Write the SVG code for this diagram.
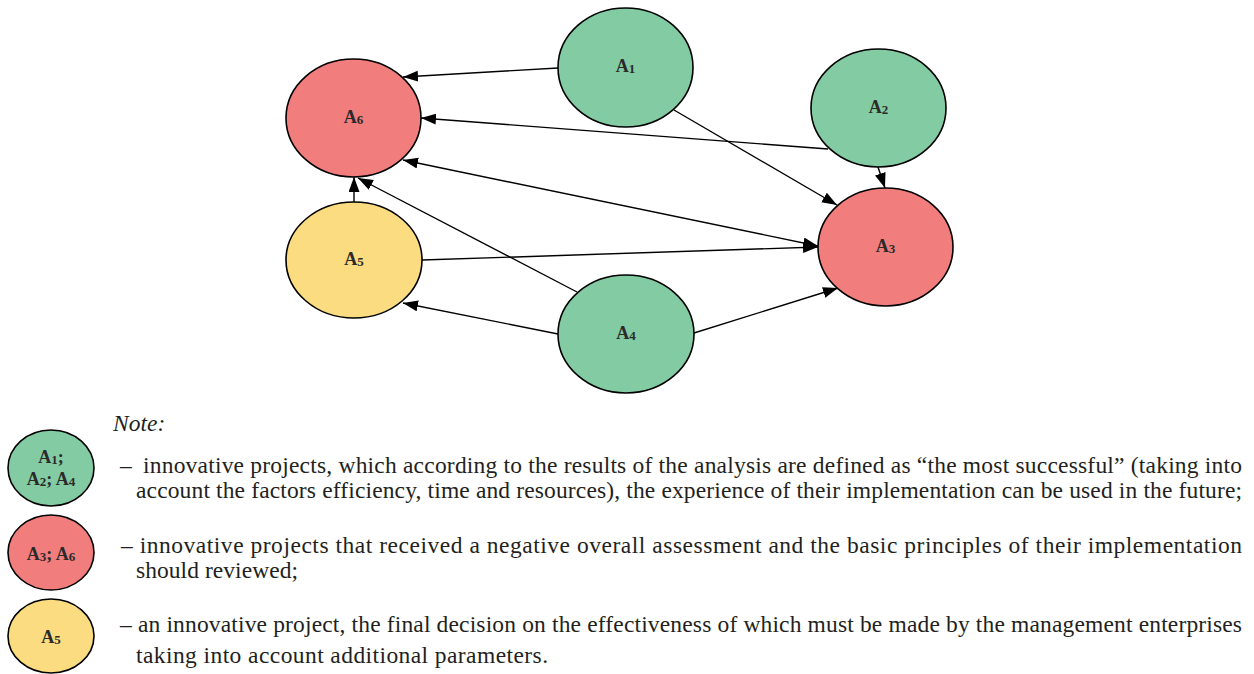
<svg xmlns="http://www.w3.org/2000/svg" width="1254" height="674" viewBox="0 0 1254 674">
<defs>
<style>
.g{fill:#83CBA3;stroke:#000;stroke-width:1.6}
.r{fill:#F27D7D;stroke:#000;stroke-width:1.6}
.y{fill:#FBDC80;stroke:#000;stroke-width:1.6}
.lbl{font-family:"Liberation Serif","Times New Roman",serif;font-weight:bold;font-size:18px;fill:#2a2a2a;text-anchor:middle}
.sub{font-size:13px}
.e{stroke:#000;stroke-width:1.4;fill:none;marker-end:url(#ah)}
.body{font-family:"Liberation Serif","Times New Roman",serif;font-size:23.5px;fill:#231f20}
</style>
<marker id="ah" markerUnits="userSpaceOnUse" markerWidth="16" markerHeight="12" refX="15" refY="5.5" orient="auto">
<path d="M0,0 L15,5.5 L0,11 z" fill="#000"/>
</marker>
<marker id="ahs" markerUnits="userSpaceOnUse" markerWidth="16" markerHeight="12" refX="15" refY="5.5" orient="auto-start-reverse">
<path d="M0,0 L15,5.5 L0,11 z" fill="#000"/>
</marker>
</defs>
<g id="connectors">
<line class="e" x1="558" y1="68" x2="403" y2="77"/>
<line class="e" x1="674" y1="110" x2="837" y2="205"/>
<line class="e" x1="828" y1="149" x2="421" y2="118"/>
<line class="e" x1="878" y1="167" x2="885" y2="188"/>
<line class="e" x1="403" y1="160" x2="818" y2="246" style="marker-start:url(#ahs);marker-end:url(#ahs)"/>
<line class="e" x1="422" y1="260" x2="818" y2="247"/>
<line class="e" x1="354" y1="202" x2="354" y2="177"/>
<line class="e" x1="577" y1="292" x2="358" y2="178"/>
<line class="e" x1="558" y1="334" x2="403" y2="303"/>
<line class="e" x1="694" y1="333" x2="838" y2="288"/>
</g>
<g id="A1"><ellipse class="g" cx="625.5" cy="67.5" rx="67.5" ry="59.5"/><text class="lbl" x="625.5" y="71.5">A<tspan class="sub" dy="1">1</tspan></text></g>
<g id="A2"><ellipse class="g" cx="878.5" cy="108" rx="67.5" ry="59"/><text class="lbl" x="878.5" y="112.5">A<tspan class="sub" dy="1">2</tspan></text></g>
<g id="A6"><ellipse class="r" cx="353.5" cy="118" rx="67.5" ry="59"/><text class="lbl" x="353.5" y="122.5">A<tspan class="sub" dy="1">6</tspan></text></g>
<g id="A3"><ellipse class="r" cx="885.5" cy="247" rx="67.5" ry="59"/><text class="lbl" x="885.5" y="251.5">A<tspan class="sub" dy="1">3</tspan></text></g>
<g id="A5"><ellipse class="y" cx="354" cy="260" rx="68" ry="58"/><text class="lbl" x="354" y="264.5">A<tspan class="sub" dy="1">5</tspan></text></g>
<g id="A4"><ellipse class="g" cx="626" cy="334" rx="68" ry="59"/><text class="lbl" x="626" y="338.5">A<tspan class="sub" dy="1">4</tspan></text></g>
<g id="legend">
<text class="body" x="113" y="431" font-style="italic">Note:</text>
<g id="leg-green"><ellipse class="g" cx="51" cy="468" rx="43" ry="38"/>
<text class="lbl" x="51" y="462.5">A<tspan class="sub" dy="1">1</tspan><tspan dy="-1">;</tspan></text>
<text class="lbl" x="51" y="485">A<tspan class="sub" dy="1">2</tspan><tspan dy="-1">; A</tspan><tspan class="sub" dy="1">4</tspan></text></g>
<g id="leg-red"><ellipse class="r" cx="51" cy="552.5" rx="43" ry="37.5"/>
<text class="lbl" x="51" y="560">A<tspan class="sub" dy="1">3</tspan><tspan dy="-1">; A</tspan><tspan class="sub" dy="1">6</tspan></text></g>
<g id="leg-yellow"><ellipse class="y" cx="51" cy="636" rx="43" ry="37"/>
<text class="lbl" x="51" y="643">A<tspan class="sub" dy="1">5</tspan></text></g>
<text class="body" x="120" y="473">–</text>
<text class="body" x="143" y="473" textLength="1099" lengthAdjust="spacing">innovative projects, which according to the results of the analysis are defined as “the most successful” (taking into</text>
<text class="body" x="136" y="498" textLength="1106" lengthAdjust="spacing">account the factors efficiency, time and resources), the experience of their implementation can be used in the future;</text>
<text class="body" x="121" y="553" textLength="1121" lengthAdjust="spacing">– innovative projects that received a negative overall assessment and the basic principles of their implementation</text>
<text class="body" x="136" y="578" textLength="162" lengthAdjust="spacing">should reviewed;</text>
<text class="body" x="120" y="632" textLength="1122" lengthAdjust="spacing">– an innovative project, the final decision on the effectiveness of which must be made by the management enterprises</text>
<text class="body" x="136" y="663" textLength="412" lengthAdjust="spacing">taking into account additional parameters.</text>
</g>
</svg>
